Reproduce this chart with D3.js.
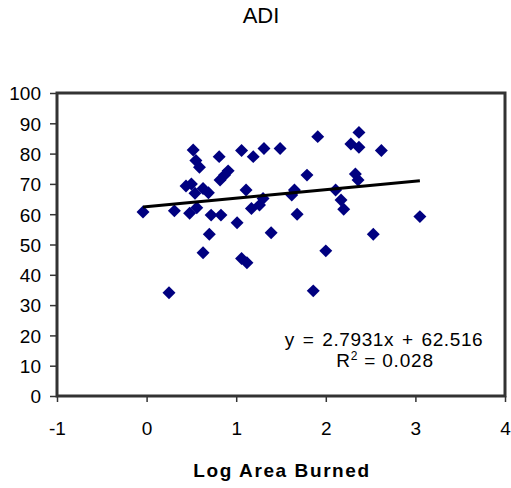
<!DOCTYPE html>
<html>
<head>
<meta charset="utf-8">
<script src="https://cdn.jsdelivr.net/npm/d3@7"></script>
<style>
  body { margin: 0; background: #fff; }
  text { font-family: "Liberation Sans", Arial, sans-serif; }
</style>
</head>
<body>
<svg id="canvas" width="511" height="488"></svg>
<script>
// log area burned vs ADI
let logArea = [-0.04, 0.31, 0.25, 0.48, 0.56, 0.72, 0.83, 1.01, 0.70, 0.63,
               0.52, 0.55, 0.59, 0.81, 1.06, 1.19, 1.31, 1.49,
               0.44, 0.50, 0.54, 0.63, 0.69, 0.82, 0.87, 0.91, 1.11, 1.17, 1.26, 1.30, 1.39,
               1.06, 1.12,
               1.91, 2.37, 2.28, 2.37, 2.62, 1.79, 2.33, 2.36, 1.65, 1.62, 2.11, 2.17, 2.20,
               1.68, 3.05, 2.53, 2.00, 1.86]
let adi = [60.7, 61.1, 34.1, 60.3, 62.1, 59.7, 59.7, 57.2, 53.4, 47.3,
           81.2, 77.7, 75.5, 79.0, 81.0, 79.0, 81.7, 81.7,
           69.3, 70.0, 66.9, 68.5, 67.1, 71.3, 72.9, 74.3, 68.0, 61.9, 63.0, 65.2, 53.9,
           45.4, 44.0,
           85.6, 87.0, 83.2, 82.1, 81.0, 72.9, 73.3, 71.3, 68.0, 66.3, 68.0, 64.7, 61.6,
           60.0, 59.2, 53.4, 47.9, 34.7]

let slope = 2.7931
let intercept = 62.516
let rSquared = 0.028

let xTicks = [-1, 0, 1, 2, 3, 4]
let yTicks = [0, 10, 20, 30, 40, 50, 60, 70, 80, 90, 100]

let canvas = d3.select('#canvas')

let xScale = d3.scaleLinear().domain([-1, 4]).range([57, 505])
let yScale = d3.scaleLinear().domain([0, 100]).range([396, 93])

// title
canvas.append('text')
    .attr('x', 261)
    .attr('y', 23)
    .attr('text-anchor', 'middle')
    .style('font-size', '22px')
    .text('ADI')

// axes
let fmt = (d) => String(d).replace('\u2212', '-')
let xAxis = d3.axisBottom(xScale).tickValues(xTicks).tickFormat(fmt).tickSize(6).tickPadding(20)
let yAxis = d3.axisLeft(yScale).tickValues(yTicks).tickFormat(fmt).tickSize(7).tickPadding(9)

let gx = canvas.append('g').attr('transform', 'translate(0,396)').call(xAxis)
let gy = canvas.append('g').attr('transform', 'translate(57,0)').call(yAxis)

for (let g of [gx, gy]) {
    g.select('.domain').remove()
    g.selectAll('.tick line').attr('stroke', '#333').attr('stroke-width', 1.5)
    g.selectAll('.tick text')
        .attr('fill', '#000')
        .style('font-size', '19px')
        .style('font-family', '"Liberation Sans", Arial, sans-serif')
}
gx.selectAll('.tick text').attr('dy', '0.71em').attr('y', 26)
gy.selectAll('.tick text').attr('dy', '0.36em')

// plot frame
canvas.append('rect')
    .attr('x', xScale(-1))
    .attr('y', yScale(100))
    .attr('width', xScale(4) - xScale(-1))
    .attr('height', yScale(0) - yScale(100))
    .attr('fill', 'none')
    .attr('stroke', '#333')
    .attr('stroke-width', 3)

// points
let points = logArea.map((x, i) => ({x: x, y: adi[i]}))

canvas.selectAll('.pt')
    .data(points)
    .enter()
    .append('path')
    .attr('class', 'pt')
    .attr('d', d3.symbol().type(d3.symbolSquare).size(84))
    .attr('transform', (d) => 'translate(' + xScale(d.x) + ',' + yScale(d.y) + ') rotate(45)')
    .attr('fill', '#000080')

// trend line
let xMin = d3.min(logArea)
let xMax = d3.max(logArea)
canvas.append('line')
    .attr('x1', xScale(xMin))
    .attr('y1', yScale(slope * xMin + intercept))
    .attr('x2', xScale(xMax))
    .attr('y2', yScale(slope * xMax + intercept))
    .attr('stroke', '#000')
    .attr('stroke-width', 3)

// equation
canvas.append('text')
    .attr('x', 384)
    .attr('y', 346)
    .attr('text-anchor', 'middle')
    .style('font-size', '19px')
    .style('letter-spacing', '0.6px')
    .style('word-spacing', '2px')
    .text('y = ' + slope + 'x + ' + intercept)

let r2 = canvas.append('text')
    .attr('x', 385)
    .attr('y', 367)
    .attr('text-anchor', 'middle')
    .style('font-size', '19px')
    .style('letter-spacing', '0.8px')
r2.append('tspan').text('R')
r2.append('tspan').attr('dy', -7).style('font-size', '12px').text('2')
r2.append('tspan').attr('dy', 7).text(' = ' + rSquared)

// x axis title
canvas.append('text')
    .attr('x', 282)
    .attr('y', 477)
    .attr('text-anchor', 'middle')
    .style('font-size', '19px')
    .style('font-weight', 'bold')
    .style('letter-spacing', '1.6px')
    .text('Log Area Burned')
</script>
</body>
</html>
